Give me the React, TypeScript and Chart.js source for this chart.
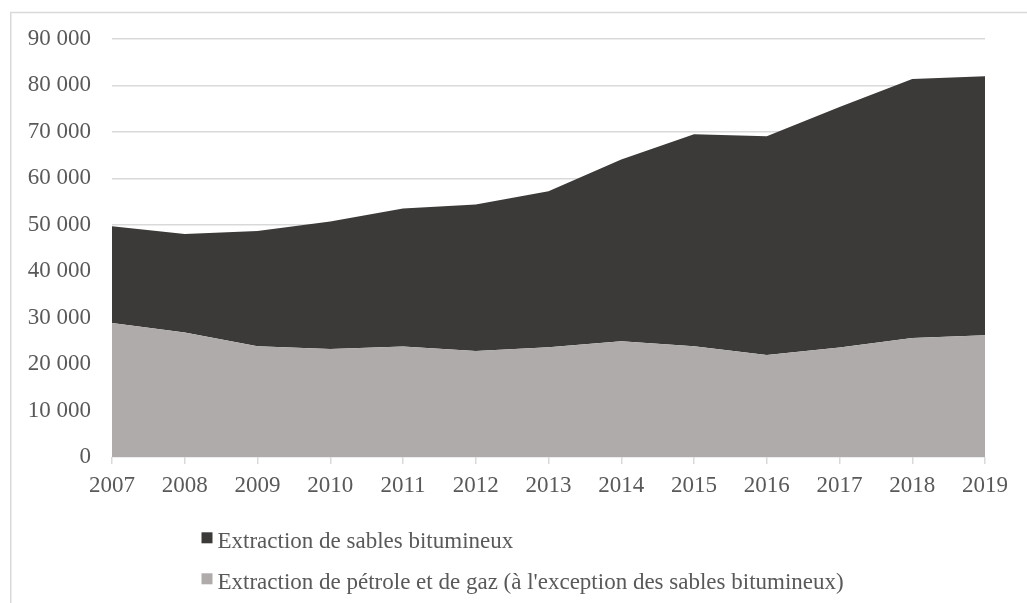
import React, { useEffect, useRef } from "react";
import { Chart, registerables } from "chart.js";

Chart.register(...registerables);

const years = ["2007", "2008", "2009", "2010", "2011", "2012", "2013", "2014", "2015", "2016", "2017", "2018", "2019"];
const oilGasLabel = "Extraction de pétrole et de gaz (à l'exception des sables bitumineux)";
const oilGas = [28850, 26790, 23840, 23260, 23770, 22830, 23620, 24910, 23840, 21960, 23560, 25620, 26200];
const oilSandsLabel = "Extraction de sables bitumineux";
const oilSands = [20830, 21230, 24830, 27430, 29720, 31520, 33590, 39130, 45650, 47100, 51810, 55780, 55780];
const yMin = 0;
const yMax = 90000;
const yStep = 10000;

const DARK = "#3b3a38";
const GREY = "#aeabaa";
const TEXT = "#595959";
const LINE = "#d9d9d9";
const FONT = "'Liberation Serif', 'Times New Roman', serif";

const fmt = (v: number) => String(v).replace(/\B(?=(\d{3})+(?!\d))/g, " ");

const framePlugin = {
  id: "frame",
  beforeDraw(chart: any) {
    const ctx = chart.ctx;
    ctx.save();
    ctx.fillStyle = "#ffffff";
    ctx.fillRect(0, 0, chart.width, chart.height);
    ctx.strokeStyle = LINE;
    ctx.lineWidth = 1.5;
    ctx.beginPath();
    ctx.moveTo(chart.width, 12.5);
    ctx.lineTo(10.75, 12.5);
    ctx.lineTo(10.75, chart.height);
    ctx.stroke();
    ctx.restore();
  },
};

const legendPlugin = {
  id: "customLegend",
  afterDraw(chart: any) {
    const ctx = chart.ctx;
    const ds = chart.data.datasets;
    const order = [1, 0];
    ctx.save();
    ctx.font = `23px ${FONT}`;
    ctx.textBaseline = "alphabetic";
    ctx.textAlign = "left";
    order.forEach((idx, row) => {
      const d = ds[idx];
      const top = 532.3 + row * 41;
      ctx.fillStyle = d.backgroundColor;
      ctx.fillRect(201.5, top, 11, 11);
      ctx.fillStyle = TEXT;
      ctx.fillText(d.label, 217.5, top + 15.3);
    });
    ctx.restore();
  },
};

export default function App() {
  const ref = useRef<HTMLCanvasElement | null>(null);

  useEffect(() => {
    document.body.style.margin = "0";
    const canvas = ref.current;
    if (!canvas) return;
    const chart = new Chart(canvas, {
      type: "line",
      data: {
        labels: years,
        datasets: [
          {
            label: oilGasLabel,
            data: oilGas,
            backgroundColor: GREY,
            borderColor: GREY,
            borderWidth: 0,
            pointRadius: 0,
            fill: "origin",
            tension: 0,
          },
          {
            label: oilSandsLabel,
            data: oilSands,
            backgroundColor: DARK,
            borderColor: DARK,
            borderWidth: 0,
            pointRadius: 0,
            fill: "-1",
            tension: 0,
          },
        ],
      },
      options: {
        responsive: false,
        animation: false,
        layout: { padding: { top: 39, right: 42, bottom: 100, left: 0 } },
        plugins: {
          legend: { display: false },
          tooltip: { enabled: false },
        },
        scales: {
          x: {
            offset: false,
            grid: {
              display: true,
              drawOnChartArea: false,
              drawTicks: true,
              tickLength: 7,
              color: LINE,
              lineWidth: 1.5,
            },
            border: { display: false },
            ticks: {
              color: TEXT,
              font: { family: FONT, size: 23 },
              padding: 8,
              maxRotation: 0,
              autoSkip: false,
            },
            afterFit(scale: any) {
              scale.height = 46;
            },
          },
          y: {
            stacked: true,
            min: yMin,
            max: yMax,
            grid: {
              color: LINE,
              lineWidth: 1.5,
              drawTicks: false,
            },
            border: { display: false },
            ticks: {
              stepSize: yStep,
              color: TEXT,
              font: { family: FONT, size: 23 },
              padding: 21,
              callback: (v: any) => fmt(Number(v)),
            },
            afterFit(scale: any) {
              scale.width = 112;
            },
          },
        },
      },
      plugins: [framePlugin, legendPlugin],
    });
    return () => chart.destroy();
  }, []);

  return <canvas ref={ref} width={1027} height={603} style={{ display: "block" }} />;
}
